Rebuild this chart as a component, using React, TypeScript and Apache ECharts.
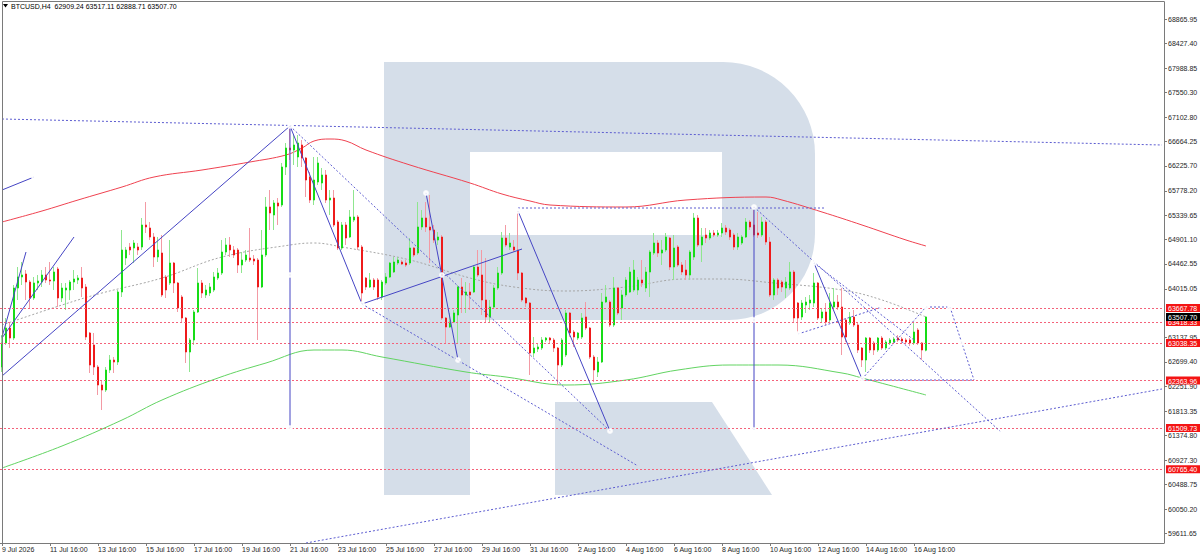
import React, { useEffect, useRef } from "react";
import * as echarts from "echarts";

const FONT = "'Liberation Sans', Arial, sans-serif";

const symbolLabel = "BTCUSD,H4";
const lastBarOHLC = ["62909.24", "63517.11", "62888.71", "63507.70"];

const xTickLabels = [
  "9 Jul 2026", "11 Jul 16:00", "13 Jul 16:00", "15 Jul 16:00", "17 Jul 16:00",
  "19 Jul 16:00", "21 Jul 16:00", "23 Jul 16:00", "25 Jul 16:00", "27 Jul 16:00",
  "29 Jul 16:00", "31 Jul 16:00", "2 Aug 16:00", "4 Aug 16:00", "6 Aug 16:00",
  "8 Aug 16:00", "10 Aug 16:00", "12 Aug 16:00", "14 Aug 16:00", "16 Aug 16:00",
];
const BARS_PER_TICK = 12;
const SLOT_COUNT = 291;

const yTickValues = [
  68865.95, 68427.4, 67988.85, 67550.3, 67102.8, 66664.25, 66225.7, 65778.2,
  65339.65, 64901.1, 64462.55, 64015.05, 63137.95, 62699.4, 62251.9, 61813.35,
  61374.8, 60927.3, 60488.75, 60050.2, 59611.65,
];
const Y_MIN = 59439;
const Y_MAX = 69177;

const levelPrices = [63667.78, 63418.33, 63038.35, 62363.96, 61509.73, 60765.4];
const currentPrice = 63507.7;

const opens = [
  62607, 63039, 63309, 63129, 64029, 64227, 64281, 64137, 63849, 64119,
  64137, 64263, 64173, 64155, 64371, 63849, 63993, 63993, 64137, 64173,
  64209, 64047, 63219, 63003, 62607, 62283, 62193, 62553, 62733, 62697,
  63957, 64569, 64767, 64749, 64767, 64767, 65163, 65109, 64947, 64587,
  64659, 64227, 64119, 64479, 64119, 63867, 63489, 62877, 63093, 63597,
  64119, 63903, 63939, 63993, 64209, 64299, 64677, 64803, 64713, 64713,
  64443, 64533, 64569, 64551, 64533, 64047, 64623, 65487, 65343, 65559,
  65523, 66207, 66549, 66513, 66387, 66603, 66369, 66027, 65613, 65937,
  65919, 66063, 65613, 65649, 65217, 64749, 65163, 64947, 65253, 65307,
  64767, 64209, 64047, 64173, 64173, 63867, 64119, 64227, 64317, 64479,
  64497, 64479, 64479, 64749, 64659, 65127, 65289, 65127, 65073, 64893,
  64947, 63489, 63327, 63417, 63543, 64047, 63903, 63957, 63957, 64407,
  64263, 63813, 63507, 63687, 64029, 64299, 64929, 64767, 64767, 64713,
  64299, 63849, 63759, 62859, 62931, 62949, 63093, 63129, 63093, 62949,
  62643, 62823, 63579, 63237, 63129, 63147, 63507, 63309, 62787, 62517,
  62697, 63777, 63777, 63363, 64029, 63669, 63903, 63957, 63993, 63993,
  64173, 64029, 64317, 64659, 64839, 64659, 64713, 64929, 64407, 64767,
  64443, 64353, 64263, 64587, 65289, 64803, 64983, 64929, 65019, 64983,
  65019, 65109, 65073, 64983, 64767, 64839, 64947, 65217, 65163, 65019,
  64983, 65217, 64857, 63903, 64173, 64137, 64029, 64029, 64317, 63759,
  63507, 63723, 63759, 63759, 64119, 63489, 63597, 63453, 63687, 63777,
  63687, 63453, 63399, 63507, 63363, 62949, 62733, 63129, 63039, 62913,
  63129, 62949, 63039, 63057, 63129, 63111, 63093, 63093, 63039, 63273,
  63039, 62909.24,
];
const closes = [
  63039, 63309, 63129, 64029, 64227, 64263, 64137, 63849, 64119, 64155,
  64263, 64173, 64155, 64317, 63849, 64029, 64029, 64137, 64191, 64209,
  64029, 63147, 62643, 62607, 62283, 62193, 62553, 62733, 62697, 63957,
  64713, 64713, 64713, 64839, 64713, 65163, 65127, 64947, 64587, 64713,
  63903, 63993, 64479, 64119, 63669, 63489, 62877, 63093, 63597, 64119,
  63939, 63993, 64047, 64227, 64299, 64677, 64803, 64713, 64623, 64443,
  64533, 64623, 64533, 64515, 64047, 64623, 65487, 65379, 65559, 65505,
  66207, 66549, 66513, 66603, 66639, 66369, 65973, 65613, 65973, 66279,
  66063, 65613, 65649, 65163, 64749, 65163, 64929, 65307, 65307, 64767,
  63939, 64047, 64173, 64047, 63867, 64137, 64227, 64479, 64497, 64533,
  64461, 64443, 64749, 64623, 65127, 65289, 65127, 65073, 64893, 64947,
  63489, 63327, 63417, 63579, 64047, 63903, 63957, 63903, 64407, 64263,
  63813, 63507, 63687, 64029, 64299, 64929, 64803, 64839, 64713, 64299,
  63813, 63759, 62859, 62949, 62967, 63093, 63129, 63093, 62949, 62643,
  63093, 63579, 63219, 63147, 63219, 63489, 63309, 62787, 62553, 62697,
  63777, 63867, 63363, 64029, 63579, 63903, 64173, 64317, 64353, 64173,
  64119, 64317, 64677, 64839, 64659, 64713, 64947, 64407, 64749, 64443,
  64317, 64263, 64677, 65289, 64803, 64947, 64929, 65019, 64983, 65019,
  65109, 65037, 64947, 64767, 64947, 64947, 65217, 65127, 64983, 64983,
  65217, 64857, 63903, 64173, 64029, 64047, 64137, 64317, 63489, 63489,
  63759, 63777, 63813, 64119, 63489, 63597, 63417, 63759, 63777, 63687,
  63147, 63147, 63507, 63363, 62913, 62733, 63129, 62913, 62913, 63129,
  62949, 63057, 63093, 63111, 63093, 63075, 63057, 63039, 63237, 63039,
  62913, 63507.7,
];
const lows = [
  62517, 63003, 62949, 63093, 63813, 64083, 63813, 63669, 63813, 63993,
  64047, 64119, 64083, 63993, 63687, 63777, 63633, 63813, 63993, 64101,
  63867, 63093, 62499, 62463, 62103, 61833, 62157, 62499, 62499, 62643,
  63867, 64443, 64623, 64479, 64623, 64713, 65019, 64893, 64407, 64497,
  63867, 63849, 64083, 63939, 63597, 63399, 62679, 62517, 63003, 63579,
  63849, 63849, 63885, 63957, 64173, 64263, 64623, 64587, 64569, 64299,
  64299, 64497, 64497, 64443, 63093, 64029, 64587, 65073, 65073, 65163,
  65487, 66063, 66333, 66243, 66207, 66207, 65667, 65559, 65523, 65883,
  65793, 65559, 65343, 65127, 64713, 64713, 64803, 64929, 65217, 64713,
  63759, 63993, 64029, 63993, 63813, 63813, 64083, 64209, 64299, 64443,
  64443, 64407, 64443, 64587, 64623, 65073, 65037, 64479, 64839, 64803,
  63453, 63039, 63309, 63399, 63039, 63579, 63579, 63633, 63939, 64227,
  63543, 63399, 63399, 63651, 63993, 64263, 64767, 64713, 64677, 64173,
  63777, 63687, 62463, 62787, 62877, 62913, 63057, 63039, 62877, 62283,
  62607, 62787, 63147, 62967, 63093, 63111, 63273, 62751, 62337, 62427,
  62679, 63759, 63327, 63327, 63543, 63453, 63867, 63939, 63957, 63903,
  64047, 63957, 63867, 64623, 64587, 64443, 64677, 64353, 64173, 64407,
  64263, 64173, 64173, 64533, 64767, 64497, 64839, 64893, 64947, 64947,
  64947, 64983, 64893, 64713, 64713, 64803, 64929, 65073, 64947, 64929,
  64947, 64803, 63867, 63813, 63903, 63957, 63849, 63993, 63417, 63219,
  63453, 63579, 63633, 63687, 63453, 63399, 63363, 63417, 63669, 63633,
  62823, 63057, 63363, 63327, 62859, 62607, 62517, 62859, 62823, 62877,
  62913, 62913, 63003, 63021, 63057, 63021, 63021, 62985, 63003, 63003,
  62733, 62888.71,
];
const highs = [
  63183, 63489, 63417, 64083, 64407, 64497, 64353, 64173, 64227, 64263,
  64353, 64407, 64497, 64407, 64407, 64119, 64119, 64173, 64353, 64263,
  64407, 64101, 63237, 63219, 62643, 62373, 62607, 62823, 62787, 63993,
  65073, 64767, 64839, 64893, 64839, 65289, 65577, 65217, 65019, 64947,
  64983, 64263, 64893, 64497, 64137, 63903, 63507, 63129, 63633, 64389,
  64173, 64083, 64119, 64317, 64389, 64893, 64929, 64947, 64785, 64749,
  64677, 64713, 65109, 64623, 64569, 65073, 65667, 65793, 65613, 65649,
  66279, 66639, 66945, 66783, 66783, 66693, 66387, 66117, 66387, 66387,
  66189, 66153, 65793, 65793, 65253, 65217, 65217, 65433, 65793, 65343,
  64803, 64227, 64299, 64209, 64209, 64173, 64299, 64497, 64587, 64587,
  64533, 64533, 64929, 64767, 65577, 65433, 65577, 65703, 65163, 65037,
  64983, 63507, 63579, 63633, 64083, 64209, 64137, 64119, 64443, 64713,
  64713, 64569, 63813, 64083, 64407, 65037, 65163, 65019, 64893, 65415,
  64317, 63867, 63777, 63147, 63039, 63147, 63147, 63147, 63129, 62967,
  63129, 63633, 63597, 63273, 63237, 63579, 63777, 63327, 62823, 62787,
  63939, 64083, 63813, 64227, 64047, 63993, 64227, 64407, 64533, 64227,
  64533, 64407, 64713, 65019, 64893, 64893, 65019, 64947, 64983, 64803,
  64497, 64533, 64713, 65379, 65343, 65109, 65109, 65073, 65073, 65073,
  65199, 65163, 65109, 65019, 65019, 64983, 65289, 65253, 65433, 65397,
  65307, 65253, 64947, 64209, 64209, 64173, 64227, 64497, 64353, 63777,
  63813, 63867, 63903, 64299, 64137, 63669, 63759, 63939, 64029, 63903,
  64029, 63489, 63597, 63633, 63399, 62967, 63147, 63147, 63075, 63147,
  63165, 63093, 63129, 63147, 63183, 63147, 63129, 63129, 63399, 63309,
  63057, 63517.11,
];

// moving averages: [bar index, price]
const redMA = [
  [0, 65217], [10, 65415], [19, 65613], [30, 65847], [38, 66027], [50, 66153],
  [62, 66297], [71, 66423], [75, 66549], [78, 66675], [82, 66711], [86, 66675],
  [91, 66513], [102, 66243], [117, 65919], [125, 65721], [132, 65595], [137, 65523],
  [156, 65487], [171, 65613], [191, 65667], [195, 65613], [205, 65397], [215, 65163],
  [226, 64893], [231, 64785],
];
const greenMA = [
  [0, 60789], [15, 61185], [30, 61653], [40, 62013], [54, 62409], [66, 62679],
  [78, 62913], [85, 62913], [95, 62787], [116, 62517], [126, 62427], [141, 62283],
  [156, 62373], [169, 62553], [182, 62643], [194, 62643], [210, 62499], [215, 62409],
  [231, 62103],
];
const grayMA = [
  [0, 63363], [15, 63723], [25, 63939], [40, 64209], [55, 64587], [72, 64803],
  [78, 64839], [85, 64767], [102, 64533], [117, 64209], [128, 64047], [141, 63975],
  [156, 64047], [171, 64191], [180, 64191], [193, 64119], [210, 63993], [220, 63813],
  [231, 63507],
];

// analyst drawings: [bar index, price] end points
const solidSegments = [
  [[0, 65793], [8, 66027]],
  [[0, 62445], [72, 66945]],
  [[0, 63129], [18, 64947]],
  [[0, 63147], [6, 64677]],
  [[72, 66945], [72, 61509]],
  [[72, 66945], [90, 63741]],
  [[90, 63741], [130, 64731]],
  [[106, 65739], [114, 62733]],
  [[129, 65415], [152, 61455]],
  [[188, 65487], [188, 61473]],
  [[203, 64479], [215, 62391]],
];
const dottedSegments = [
  [[0, 67071], [290, 66603]],
  [[72, 66945], [152, 61455]],
  [[90, 63741], [159, 60825]],
  [[129, 65469], [206, 65469]],
  [[188, 65487], [250, 61419]],
  [[199, 63201], [220, 63687]],
  [[215, 62391], [231, 63687]],
  [[215, 62373], [243, 62373]],
  [[237, 63687], [243, 62373]],
  [[231, 63687], [237, 63687]],
  [[203, 64479], [228, 63093]],
  [[76, 59439], [290, 62211]],
];
const anchorPoints = [
  [8, 66027], [72, 66945], [72, 64263], [72, 61509], [90, 63741], [106, 65739],
  [114, 62733], [110, 64263], [129, 65415], [152, 61455], [188, 65487], [188, 63453],
  [188, 61473], [203, 64479], [215, 62391], [231, 63687], [237, 63687], [240, 63039],
  [250, 61419], [199, 63201], [220, 63687],
];

const BULL = "#17dc17";
const BEAR = "#ee1b1b";
const BULL_WICK = "#8fe68f";
const BEAR_WICK = "#f39aa4";
const SOLID_BLUE = "#4545c4";
const DOT_BLUE = "#5c5cd0";
const LEVEL_RED = "#f4627a";
const AXIS_GRAY = "#7a7a7a";
const WM = "#d5dee9";

export default function App() {
  const ref = useRef<HTMLDivElement>(null);

  useEffect(() => {
    if (!ref.current) return;
    const chart = echarts.init(ref.current, null, { renderer: "svg" });

    const categories = Array.from({ length: SLOT_COUNT }, (_, i) => String(i));
    const isTick = (i: number) => i % BARS_PER_TICK === 0 && i / BARS_PER_TICK < xTickLabels.length;
    const fullCandles = opens.map((o, i) => [o, closes[i], lows[i], highs[i]]);
    const bodyCandles = opens.map((o, i) => [o, closes[i], Math.min(o, closes[i]), Math.max(o, closes[i])]);

    const lineSeries = (data: number[][], color: string, type: any, z: number, smooth: number | boolean = false) => ({
      type: "line",
      data,
      smooth,
      showSymbol: false,
      silent: true,
      z,
      lineStyle: { color, width: 1, type },
      xAxisIndex: 0,
      yAxisIndex: 0,
    });

    const option: any = {
      animation: false,
      backgroundColor: "#ffffff",
      grid: { left: 0, top: 2, width: 1164, height: 541, containLabel: false, outerBoundsMode: "none" },
      xAxis: {
        type: "category",
        data: categories,
        boundaryGap: true,
        axisLine: { show: true, lineStyle: { color: AXIS_GRAY, width: 1 } },
        axisTick: { show: true, alignWithLabel: true, interval: isTick, length: 3, lineStyle: { color: AXIS_GRAY } },
        axisLabel: {
          interval: isTick,
          formatter: (_v: string, i: number) => xTickLabels[i / BARS_PER_TICK] ?? "",
          align: "left",
          margin: 3,
          fontSize: 7,
          fontFamily: FONT,
          color: "#1e1e1e",
        },
        splitLine: { show: false },
      },
      yAxis: [
        {
          type: "value",
          position: "right",
          min: Y_MIN,
          max: Y_MAX,
          axisLine: { show: true, lineStyle: { color: AXIS_GRAY, width: 1 } },
          axisTick: { show: true, length: 3, customValues: yTickValues, lineStyle: { color: AXIS_GRAY } },
          axisLabel: {
            customValues: yTickValues,
            formatter: (v: number) => v.toFixed(2),
            margin: 4,
            fontSize: 7,
            fontFamily: FONT,
            color: "#1e1e1e",
          },
          splitLine: { show: false },
        },
        {
          type: "value",
          position: "right",
          min: Y_MIN,
          max: Y_MAX,
          z: 5,
          axisLine: { show: false },
          axisTick: { show: false },
          splitLine: { show: false },
          axisLabel: {
            customValues: [...levelPrices, currentPrice],
            margin: 2,
            formatter: (v: number) =>
              Math.abs(v - currentPrice) < 0.005 ? `{k|${v.toFixed(2)}}` : `{r|${v.toFixed(2)}}`,
            rich: {
              r: { backgroundColor: "#f41414", color: "#ffffff", fontSize: 7, fontFamily: FONT, padding: [1, 4, 0, 2], lineHeight: 8 },
              k: { backgroundColor: "#000000", color: "#ffffff", fontSize: 7, fontFamily: FONT, padding: [1, 4, 0, 2], lineHeight: 8 },
            },
          },
        },
      ],
      graphic: {
        elements: [
          { type: "rect", z: 0, silent: true, shape: { x: 384, y: 62, width: 86, height: 433 }, style: { fill: WM } },
          { type: "rect", z: 0, silent: true, shape: { x: 470, y: 62, width: 345, height: 258, r: [0, 92, 86, 0] }, style: { fill: WM } },
          { type: "rect", z: 1, silent: true, shape: { x: 470, y: 152, width: 252, height: 83 }, style: { fill: "#ffffff" } },
          { type: "polygon", z: 0, silent: true, shape: { points: [[555, 402], [712, 402], [772, 495], [555, 495]] }, style: { fill: WM } },
          { type: "polyline", z: 50, silent: true, shape: { points: [[2.5, 543], [2.5, 1.5], [1164.5, 1.5]] }, style: { stroke: AXIS_GRAY, fill: "none", lineWidth: 1 } },
          { type: "polygon", z: 50, silent: true, shape: { points: [[3, 4], [8, 4], [5.5, 7.5]] }, style: { fill: "#000000" } },
          {
            type: "text",
            z: 50,
            silent: true,
            x: 11,
            y: 6,
            style: {
              text: `${symbolLabel}  ${lastBarOHLC.join(" ")}`,
              fontSize: 7,
              fontFamily: FONT,
              fill: "#000000",
              verticalAlign: "middle",
            },
          },
        ],
      },
      series: [
        {
          name: "wicks",
          type: "candlestick",
          data: fullCandles,
          barWidth: 1,
          silent: true,
          z: 3,
          itemStyle: { color: BULL_WICK, color0: BEAR_WICK, borderColor: BULL_WICK, borderColor0: BEAR_WICK, borderWidth: 1 },
          markLine: {
            silent: true,
            symbol: ["none", "none"],
            label: { show: false },
            lineStyle: { color: LEVEL_RED, type: [2, 2], width: 1 },
            data: levelPrices.map((v) => ({ yAxis: v })),
          },
        },
        {
          name: "bodies",
          type: "candlestick",
          data: bodyCandles,
          barWidth: 2,
          silent: true,
          z: 4,
          itemStyle: { color: BULL, color0: BEAR, borderColor: BULL, borderColor0: BEAR, borderWidth: 1 },
        },
        lineSeries(redMA, "#ef4250", "solid", 2, 0.4),
        lineSeries(greenMA, "#62d462", "solid", 2, 0.4),
        lineSeries(grayMA, "#a6a6a6", [2, 2], 2, 0.4),
        ...solidSegments.map((s) => lineSeries(s, SOLID_BLUE, "solid", 5)),
        ...dottedSegments.map((s) => lineSeries(s, DOT_BLUE, [2, 2], 5)),
        {
          type: "scatter",
          data: anchorPoints,
          symbol: "emptyCircle",
          symbolSize: 4,
          silent: true,
          z: 6,
          itemStyle: { color: "#ffffff", borderColor: SOLID_BLUE, borderWidth: 1 },
        },
      ],
    };

    chart.setOption(option);
    return () => chart.dispose();
  }, []);

  return <div ref={ref} style={{ position: "absolute", left: 0, top: 0, width: 1200, height: 555 }} />;
}
